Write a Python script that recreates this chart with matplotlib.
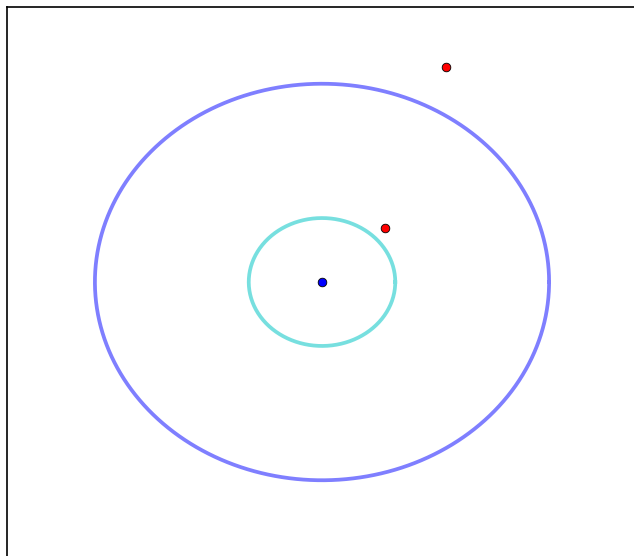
import numpy as np
import matplotlib
matplotlib.use('Agg')
import matplotlib.pyplot as plt

# orbit radii (sun at origin)
orbit_radii = [1.0, 3.1]
orbit_colors = ['#2fcfcf', 'blue']

# planet positions
planet_x = [0.86, 1.69]
planet_y = [0.845, 3.36]

sun_x = [0.0]
sun_y = [0.0]

fig = plt.figure(figsize=(6.34, 5.56), dpi=100)
ax = fig.add_axes([7 / 634, -1 / 556, 630 / 634, 550 / 556])

theta = np.linspace(0, 2 * np.pi, 400)
for r, c in zip(orbit_radii, orbit_colors):
    ax.plot(r * np.cos(theta), r * np.sin(theta), color=c, alpha=0.65 if c != 'blue' else 0.5, linewidth=2.7)

ax.plot(sun_x, sun_y, 'o', color='blue', markersize=6.2, markeredgecolor='black', markeredgewidth=0.6)
ax.plot(planet_x, planet_y, 'o', color='red', markersize=6.2, markeredgecolor='black', markeredgewidth=0.6, linestyle='none')

ax.set_xlim(-4.3, 4.3)
ax.set_ylim(-4.3, 4.3)
ax.set_xticks([])
ax.set_yticks([])
for s in ax.spines.values():
    s.set_linewidth(1.2)

plt.savefig('out.png', dpi=100)
